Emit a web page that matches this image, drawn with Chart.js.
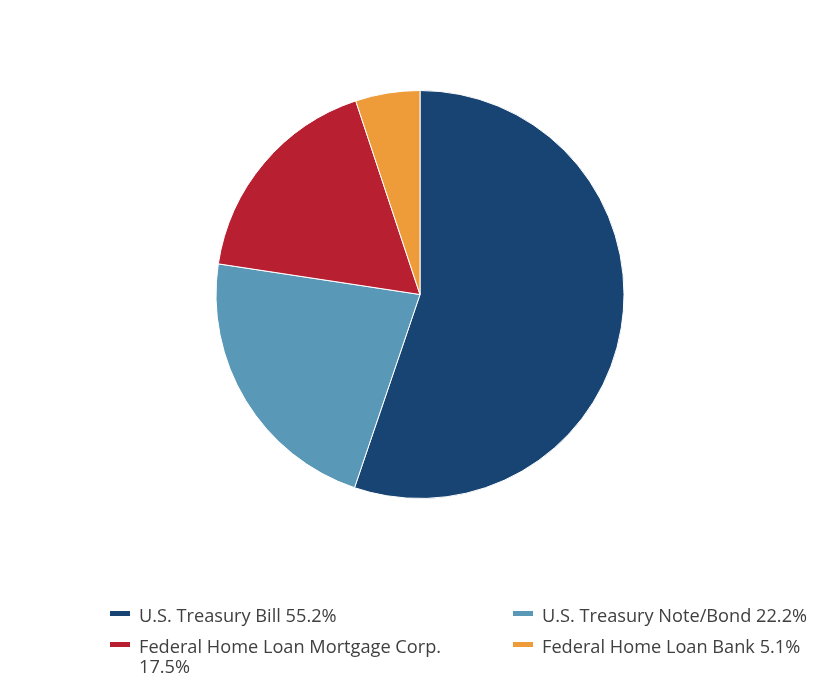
<!DOCTYPE html>
<html>
<head>
<meta charset="utf-8">
<script src="https://cdn.jsdelivr.net/npm/chart.js@4"></script>
<style>
    html, body { margin: 0; padding: 0; background: #fff; }
    #wrap { position: relative; width: 840px; height: 684px; }
    #legend {
        position: absolute; left: 0; top: 605px; width: 840px;
        font-family: "Open Sans", sans-serif; font-size: 18.2px; color: #404040;
    }
    .item { position: absolute; line-height: 20px; }
    .swatch { position: absolute; left: 0; top: 6px; width: 20px; height: 5px; }
    .label { margin-left: 29px; }
</style>
</head>
<body>
<div id="wrap">
    <canvas id="pie" width="840" height="684"></canvas>
    <div id="legend"></div>
</div>
<script>
// categories and shares (%)
const categories = ['U.S. Treasury Bill', 'U.S. Treasury Note/Bond', 'Federal Home Loan Mortgage Corp.', 'Federal Home Loan Bank'];
const shares = [55.2, 22.2, 17.5, 5.1];
const colors = ['#174472', '#5a98b7', '#b82032', '#ee9b3a'];

// legend: two columns, two rows
const legendSlots = [
    { left: 110, top: 0 },
    { left: 513, top: 0 },
    { left: 110, top: 31 },
    { left: 513, top: 31 }
];
const legendOrder = [0, 1, 2, 3];
const legendWidths = [380, 320, 345, 320];

const ctx = document.getElementById('pie').getContext('2d');
new Chart(ctx, {
    type: 'pie',
    data: {
        labels: categories,
        datasets: [{
            data: shares,
            backgroundColor: colors,
            borderColor: '#ffffff',
            borderWidth: 1
        }]
    },
    options: {
        responsive: false,
        animation: false,
        layout: {
            padding: { top: 90, bottom: 185, left: 0, right: 0 }
        },
        plugins: {
            legend: { display: false },
            tooltip: { enabled: false }
        }
    }
});

// HTML legend
const legendEl = document.getElementById('legend');
legendOrder.forEach((idx, i) => {
    const div = document.createElement('div');
    div.className = 'item';
    div.style.left = legendSlots[i].left + 'px';
    div.style.top = legendSlots[i].top + 'px';
    div.style.width = legendWidths[i] + 'px';
    div.innerHTML = `<span class="swatch" style="background:${colors[idx]}"></span>` +
        `<div class="label">${categories[idx]} ${shares[idx].toFixed(1)}%</div>`;
    legendEl.appendChild(div);
});
</script>
</body>
</html>
